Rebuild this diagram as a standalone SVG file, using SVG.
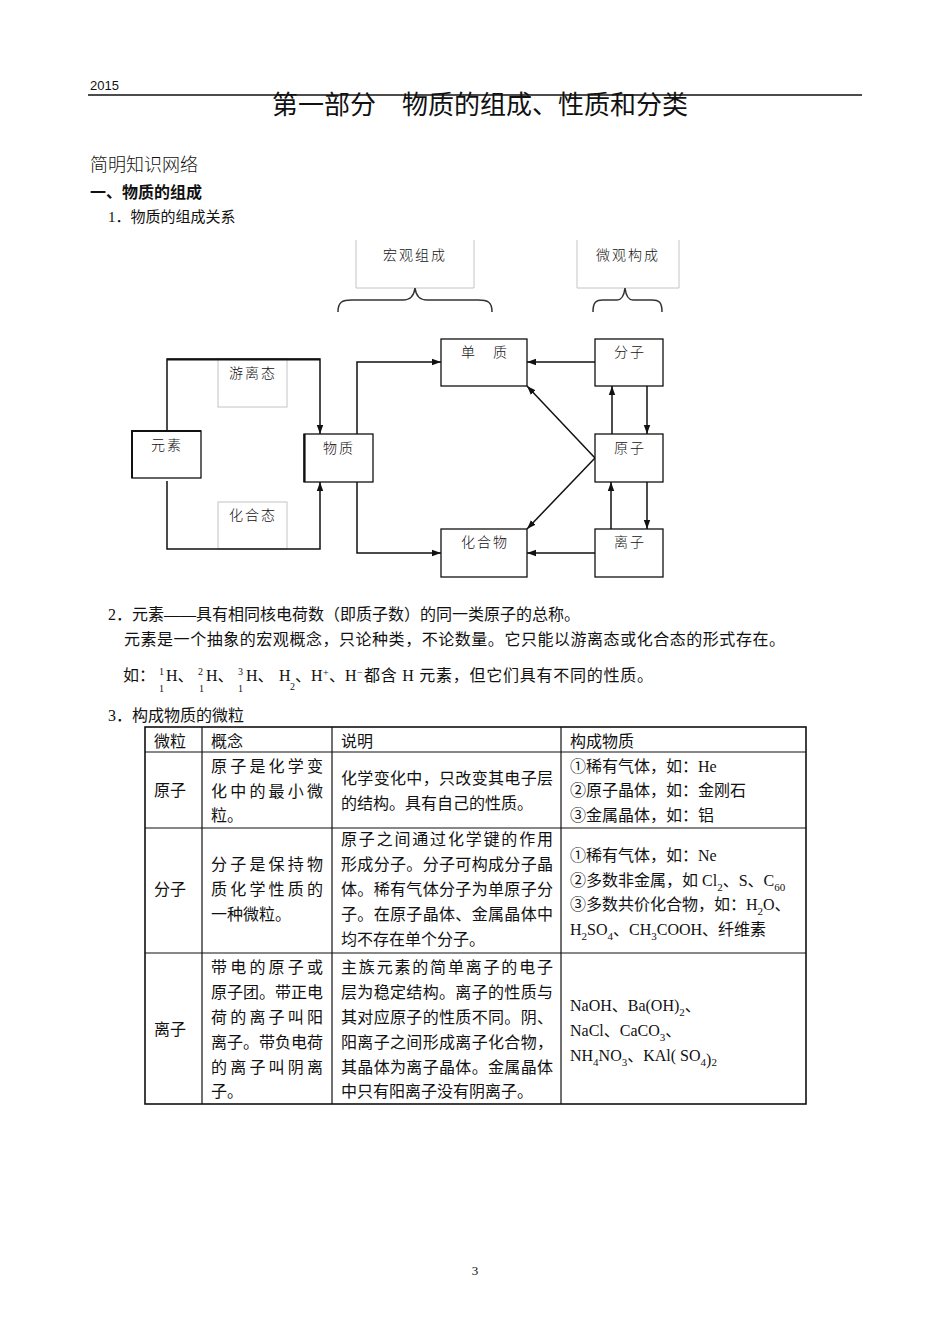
<svg xmlns="http://www.w3.org/2000/svg" width="950" height="1344" viewBox="0 0 950 1344">
<defs>
<marker id="ah" markerWidth="10" markerHeight="8" refX="9" refY="4" orient="auto" markerUnits="userSpaceOnUse">
<path d="M0,0.8 L9,4 L0,7.2 Z" fill="#111"/>
</marker>
<style>
.cjk{font-family:"Liberation Serif","Noto Sans CJK SC",serif;fill:#111}
.sans{font-family:"Liberation Sans","Noto Sans CJK SC",sans-serif;fill:#111}
.nt{font-family:"Noto Sans CJK SC",sans-serif;font-size:14px;fill:#111;text-anchor:middle;font-weight:300;letter-spacing:2px}
.box{fill:#fff;stroke:#111;stroke-width:1.3}
.lbl{fill:none;stroke:#c4c4c4;stroke-width:1}
.con{fill:none;stroke:#111;stroke-width:1.5}
.brace{fill:none;stroke:#333;stroke-width:1.5}
.tb{font-family:"Liberation Serif","Noto Sans CJK SC",serif;font-size:16px;fill:#111}
.grid{stroke:#111;stroke-width:1.2;fill:none}
.sub{font-size:11px}
</style>
</defs>
<rect width="950" height="1344" fill="#fff"/>

<!-- header -->
<text x="90" y="90" class="sans" font-size="13">2015</text>
<line x1="88" y1="95" x2="862" y2="95" stroke="#111" stroke-width="1.3"/>
<text x="480" y="114" font-family="Noto Sans CJK SC,sans-serif" font-size="26" font-weight="400" text-anchor="middle" fill="#111">第一部分　物质的组成、性质和分类</text>
<text x="90" y="171" font-family="Noto Sans CJK SC,sans-serif" font-size="18" font-weight="300" fill="#111">简明知识网络</text>
<text x="90" y="198" font-family="Noto Sans CJK SC,sans-serif" font-size="16" font-weight="700" fill="#111">一、物质的组成</text>
<text x="108" y="222" class="cjk" font-size="15">1．物质的组成关系</text>

<!-- diagram labels -->
<g id="macro">
<path class="lbl" d="M356,240 V288 H474 V240"/>
<text x="415" y="260" class="nt">宏观组成</text>
<path class="brace" d="M338,312 C338,302 342,300 352,300 L403,300 C410,300 414,296 415,288 C416,296 420,300 427,300 L478,300 C488,300 492,302 492,312"/>
</g>
<g id="micro">
<path class="lbl" d="M577,240 V288 H679 V240"/>
<text x="628" y="260" class="nt">微观构成</text>
<path class="brace" d="M593,312 C593,302 596,300 603,300 L617,300 C622,300 624,296 625,288 C626,296 628,300 633,300 L652,300 C659,300 662,302 662,312"/>
</g>
<g id="youlitai">
<rect class="lbl" x="218" y="359" width="69" height="48"/>
<text x="253" y="378" class="nt">游离态</text>
</g>
<g id="huhetai">
<rect class="lbl" x="218" y="502" width="69" height="47"/>
<text x="253" y="520" class="nt">化合态</text>
</g>

<!-- connectors -->
<g id="connectors">
<path class="con" d="M167,431 V359 H320 V434" marker-end="url(#ah)" stroke-width="1.6"/>
<line x1="167" y1="359.5" x2="320" y2="359.5" stroke="#111" stroke-width="2.2"/>
<path class="con" d="M167,481 V549 H320 V482" marker-end="url(#ah)"/>
<path class="con" d="M357,434 V362 H441" marker-end="url(#ah)"/>
<path class="con" d="M357,482 V553 H441" marker-end="url(#ah)"/>
<path class="con" d="M595,362 H527" marker-end="url(#ah)"/>
<path class="con" d="M595,553 H527" marker-end="url(#ah)"/>
<path class="con" d="M595,458 L527,386" marker-end="url(#ah)"/>
<path class="con" d="M595,458 L527,529" marker-end="url(#ah)"/>
<path class="con" d="M612,434 V386" marker-end="url(#ah)"/>
<path class="con" d="M647,386 V434" marker-end="url(#ah)"/>
<path class="con" d="M611,529 V482" marker-end="url(#ah)"/>
<path class="con" d="M647,482 V529" marker-end="url(#ah)"/>
</g>

<!-- nodes -->
<g id="yuansu">
<rect class="box" x="132" y="431" width="69" height="47"/>
<path d="M132,478 V431 H201" fill="none" stroke="#111" stroke-width="2"/>
<text x="167" y="450" class="nt">元素</text>
</g>
<g id="wuzhi">
<rect class="box" x="304" y="434" width="69" height="48"/>
<line x1="304.5" y1="434" x2="304.5" y2="482" stroke="#111" stroke-width="2.2"/>
<text x="339" y="453" class="nt">物质</text>
</g>
<g id="danzhi">
<rect class="box" x="441" y="339" width="86" height="47"/>
<text x="485" y="357" class="nt">单　质</text>
</g>
<g id="huahewu">
<rect class="box" x="441" y="529" width="86" height="48"/>
<text x="485" y="547" class="nt">化合物</text>
</g>
<g id="fenzi">
<rect class="box" x="595" y="339" width="68" height="47"/>
<text x="630" y="357" class="nt">分子</text>
</g>
<g id="yuanzi">
<rect class="box" x="595" y="434" width="68" height="48"/>
<text x="630" y="453" class="nt">原子</text>
</g>
<g id="lizi">
<rect class="box" x="595" y="529" width="68" height="48"/>
<text x="630" y="547" class="nt">离子</text>
</g>

<!-- section 2 -->
<text x="108" y="620" class="cjk" font-size="16">2．元素——具有相同核电荷数（即质子数）的同一类原子的总称。</text>
<text x="124" y="645" class="cjk" font-size="16" textLength="661" lengthAdjust="spacing">元素是一个抽象的宏观概念，只论种类，不论数量。它只能以游离态或化合态的形式存在。</text>
<text class="cjk" font-size="16" y="681"><tspan x="123" y="681">如：</tspan><tspan x="159" y="675" font-size="10">1</tspan><tspan x="159" y="692" font-size="10">1</tspan><tspan x="166" y="681">H、</tspan><tspan x="198" y="675" font-size="10">2</tspan><tspan x="199" y="692" font-size="10">1</tspan><tspan x="206" y="681">H、</tspan><tspan x="238" y="675" font-size="10">3</tspan><tspan x="238" y="692" font-size="10">1</tspan><tspan x="246" y="681">H、</tspan><tspan x="279" y="681">H</tspan><tspan x="290" y="690" font-size="10">2</tspan><tspan x="295" y="681">、</tspan><tspan x="311" y="681">H</tspan><tspan x="323" y="676" font-size="10">+</tspan><tspan x="329" y="681">、</tspan><tspan x="345" y="681">H</tspan><tspan x="357" y="676" font-size="10">−</tspan><tspan x="364" y="681" textLength="289" lengthAdjust="spacing">都含 H 元素，但它们具有不同的性质。</tspan></text>
<text x="108" y="721" class="cjk" font-size="16">3．构成物质的微粒</text>

<!-- table -->
<g id="table">
<rect x="145" y="727" width="661" height="377" fill="none" stroke="#111" stroke-width="1.6"/>
<line class="grid" x1="202" y1="727" x2="202" y2="1104"/>
<line class="grid" x1="332" y1="727" x2="332" y2="1104"/>
<line class="grid" x1="561" y1="727" x2="561" y2="1104"/>
<line class="grid" x1="145" y1="752" x2="806" y2="752"/>
<line class="grid" x1="145" y1="828" x2="806" y2="828" stroke-width="1.6"/>
<line class="grid" x1="145" y1="953" x2="806" y2="953" stroke-width="1.6"/>

<g class="tb">
<text x="154" y="747">微粒</text>
<text x="211" y="747">概念</text>
<text x="341" y="747">说明</text>
<text x="570" y="747">构成物质</text>

<text x="154" y="796">原子</text>
<text x="211" y="772" textLength="112" lengthAdjust="spacing">原子是化学变</text>
<text x="211" y="797" textLength="112" lengthAdjust="spacing">化中的最小微</text>
<text x="211" y="821">粒。</text>
<text x="341" y="784" textLength="212" lengthAdjust="spacing">化学变化中，只改变其电子层</text>
<text x="341" y="809">的结构。具有自己的性质。</text>
<text x="570" y="772">①稀有气体，如：He</text>
<text x="570" y="796">②原子晶体，如：金刚石</text>
<text x="570" y="821">③金属晶体，如：铝</text>

<text x="154" y="895">分子</text>
<text x="211" y="870" textLength="112" lengthAdjust="spacing">分子是保持物</text>
<text x="211" y="895" textLength="112" lengthAdjust="spacing">质化学性质的</text>
<text x="211" y="920">一种微粒。</text>
<text x="341" y="845" textLength="212" lengthAdjust="spacing">原子之间通过化学键的作用</text>
<text x="341" y="870" textLength="212" lengthAdjust="spacing">形成分子。分子可构成分子晶</text>
<text x="341" y="895" textLength="212" lengthAdjust="spacing">体。稀有气体分子为单原子分</text>
<text x="341" y="920" textLength="212" lengthAdjust="spacing">子。在原子晶体、金属晶体中</text>
<text x="341" y="945">均不存在单个分子。</text>
<text x="570" y="861">①稀有气体，如：Ne</text>
<text x="570" y="886">②多数非金属，如 Cl<tspan class="sub" dy="5">2</tspan><tspan dy="-5">、S、C</tspan><tspan class="sub" dy="5">60</tspan></text>
<text x="570" y="910">③多数共价化合物，如：H<tspan class="sub" dy="5">2</tspan><tspan dy="-5">O、</tspan></text>
<text x="570" y="935">H<tspan class="sub" dy="5">2</tspan><tspan dy="-5">SO</tspan><tspan class="sub" dy="5">4</tspan><tspan dy="-5">、CH</tspan><tspan class="sub" dy="5">3</tspan><tspan dy="-5">COOH、纤维素</tspan></text>

<text x="154" y="1035">离子</text>
<text x="211" y="973" textLength="112" lengthAdjust="spacing">带电的原子或</text>
<text x="211" y="998" textLength="112" lengthAdjust="spacing">原子团。带正电</text>
<text x="211" y="1023" textLength="112" lengthAdjust="spacing">荷的离子叫阳</text>
<text x="211" y="1048" textLength="112" lengthAdjust="spacing">离子。带负电荷</text>
<text x="211" y="1073" textLength="112" lengthAdjust="spacing">的离子叫阴离</text>
<text x="211" y="1097">子。</text>
<text x="341" y="973" textLength="212" lengthAdjust="spacing">主族元素的简单离子的电子</text>
<text x="341" y="998" textLength="212" lengthAdjust="spacing">层为稳定结构。离子的性质与</text>
<text x="341" y="1023" textLength="212" lengthAdjust="spacing">其对应原子的性质不同。阴、</text>
<text x="341" y="1048" textLength="212" lengthAdjust="spacing">阳离子之间形成离子化合物，</text>
<text x="341" y="1073" textLength="212" lengthAdjust="spacing">其晶体为离子晶体。金属晶体</text>
<text x="341" y="1097">中只有阳离子没有阴离子。</text>
<text x="570" y="1011">NaOH、Ba(OH)<tspan class="sub" dy="5">2</tspan><tspan dy="-5">、</tspan></text>
<text x="570" y="1036">NaCl、CaCO<tspan class="sub" dy="5">3</tspan><tspan dy="-5">、</tspan></text>
<text x="570" y="1061">NH<tspan class="sub" dy="5">4</tspan><tspan dy="-5">NO</tspan><tspan class="sub" dy="5">3</tspan><tspan dy="-5">、KAl( SO</tspan><tspan class="sub" dy="5">4</tspan><tspan dy="-1">)</tspan><tspan class="sub" dy="1">2</tspan></text>
</g>
</g>

<text x="475" y="1275" class="cjk" font-size="13" text-anchor="middle">3</text>
</svg>
